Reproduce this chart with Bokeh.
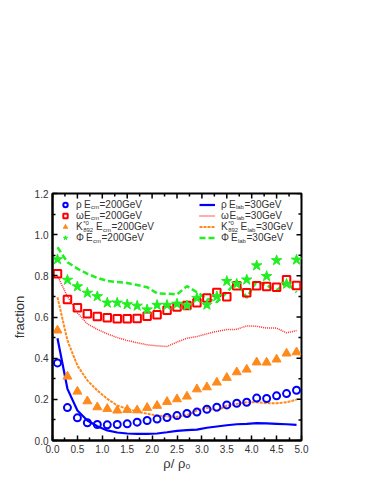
from bokeh.plotting import figure
from bokeh.models import Range1d, FixedTicker, Legend, LegendItem, NumeralTickFormatter
from bokeh.core.properties import value
from bokeh.embed import file_html
from bokeh.resources import INLINE

# ---------------- data ----------------
density = [0.1, 0.3, 0.5, 0.7, 0.9, 1.1, 1.3, 1.5, 1.7, 1.9, 2.1, 2.3, 2.5,
           2.7, 2.9, 3.1, 3.3, 3.5, 3.7, 3.9, 4.1, 4.3, 4.5, 4.7, 4.9]

rho_200 = [0.377, 0.160, 0.110, 0.086, 0.078, 0.076, 0.078, 0.081, 0.089, 0.097, 0.104, 0.112, 0.121,
           0.131, 0.138, 0.152, 0.162, 0.173, 0.181, 0.186, 0.206, 0.204, 0.217, 0.228, 0.244]
omega_200 = [0.810, 0.685, 0.645, 0.616, 0.603, 0.596, 0.591, 0.591, 0.593, 0.604, 0.611, 0.633, 0.648,
             0.656, 0.669, 0.692, 0.719, 0.698, 0.752, 0.718, 0.752, 0.748, 0.745, 0.781, 0.753]
kstar_200 = [0.535, 0.311, 0.238, 0.191, 0.162, 0.154, 0.146, 0.149, 0.147, 0.159, 0.169, 0.188, 0.201,
             0.214, 0.249, 0.259, 0.282, 0.305, 0.332, 0.345, 0.380, 0.379, 0.394, 0.423, 0.429]
phi_200 = [0.880, 0.780, 0.748, 0.717, 0.700, 0.669, 0.669, 0.661, 0.654, 0.636, 0.658, 0.658, 0.664,
           0.656, 0.692, 0.659, 0.700, 0.774, 0.761, 0.781, 0.850, 0.798, 0.875, 0.761, 0.878]

rho_30 = [0.497, 0.251, 0.146, 0.097, 0.069, 0.049, 0.039, 0.034, 0.032, 0.032, 0.034, 0.040, 0.047,
          0.050, 0.053, 0.062, 0.068, 0.074, 0.079, 0.081, 0.084, 0.083, 0.081, 0.079, 0.076]
omega_30 = [0.800, 0.700, 0.620, 0.567, 0.540, 0.518, 0.500, 0.486, 0.475, 0.465, 0.460, 0.457, 0.478,
            0.497, 0.505, 0.518, 0.530, 0.539, 0.540, 0.557, 0.555, 0.546, 0.546, 0.523, 0.534]
kstar_30 = [0.696, 0.486, 0.364, 0.292, 0.243, 0.202, 0.170, 0.154, 0.141, 0.130, 0.121, 0.117, 0.115,
            0.123, 0.146, 0.159, 0.143, 0.170, 0.178, 0.186, 0.186, 0.181, 0.181, 0.186, 0.198]
phi_30 = [0.939, 0.866, 0.835, 0.810, 0.790, 0.775, 0.770, 0.765, 0.755, 0.745, 0.715, 0.713, 0.710,
          0.750, 0.720, 0.690, 0.672, 0.720, 0.774, 0.693, 0.774, 0.753, 0.729, 0.769, 0.720]

x_ticks = [0.0, 0.5, 1.0, 1.5, 2.0, 2.5, 3.0, 3.5, 4.0, 4.5, 5.0]
x_minor_ticks = [0.25, 0.75, 1.25, 1.75, 2.25, 2.75, 3.25, 3.75, 4.25, 4.75]
y_ticks = [0.0, 0.2, 0.4, 0.6, 0.8, 1.0, 1.2]
y_minor_ticks = [0.1, 0.3, 0.5, 0.7, 0.9, 1.1]

x_label = "ρ/ ρ₀"
y_label = "fraction"

legend_greek = ["ρ", "ω", "K", "Φ"]
legend_200_sub = "cm"
legend_200_rest = "=200GeV"
legend_30_sub = "lab"
legend_30_rest = "=30GeV"
kstar_sup = "*0"
kstar_sub = "892"

# ---------------- styles ----------------
FONT = "Liberation Sans"
TXT = "#333333"
BLUE = "#0000ff"
RED = "#ff0000"
PINK = "#ff2a2a"
ORANGE = "#ff8a1c"
GREEN = "#22ee22"
FW, FH = 249, 247
XMAX, YMAX = 5.0, 1.2

p = figure(frame_width=FW, frame_height=FH, output_backend="svg", toolbar_location=None,
           x_range=Range1d(0, XMAX), y_range=Range1d(0, YMAX),
           min_border_left=52, min_border_top=193, min_border_right=60, min_border_bottom=36)
p.grid.visible = False
p.outline_line_color = "black"
p.outline_line_width = 2
p.background_fill_color = "white"
p.border_fill_color = "white"

def style_axis(ax):
    ax.axis_line_width = 2
    ax.axis_line_color = "black"
    ax.major_tick_in = 5
    ax.major_tick_out = 0
    ax.minor_tick_in = 3
    ax.minor_tick_out = 0
    ax.major_tick_line_width = 1.5
    ax.minor_tick_line_width = 1.5
    ax.major_label_text_font = FONT
    ax.major_label_text_color = TXT
    ax.major_label_text_font_size = "10px"
    ax.major_label_standoff = 4
    ax.axis_label_text_font = FONT
    ax.axis_label_text_color = TXT
    ax.axis_label_text_font_size = "13px"
    ax.axis_label_text_font_style = "normal"
    ax.formatter = NumeralTickFormatter(format="0.0")

p.xaxis.ticker = FixedTicker(ticks=x_ticks, minor_ticks=x_minor_ticks)
p.yaxis.ticker = FixedTicker(ticks=y_ticks, minor_ticks=y_minor_ticks)
style_axis(p.xaxis[0])
style_axis(p.yaxis[0])
p.xaxis.axis_label = x_label
p.yaxis.axis_label = y_label
p.xaxis.axis_label_standoff = 0
p.yaxis.axis_label_standoff = 5

# mirrored inward ticks on top and right edges (derived from the tick lists)
def seg_ticks(ticks, length_px, horizontal_edge):
    if horizontal_edge:
        d = length_px / FH * YMAX
        p.segment(x0=ticks, y0=[YMAX] * len(ticks), x1=ticks, y1=[YMAX - d] * len(ticks),
                  line_color="black", line_width=1.5)
    else:
        d = length_px / FW * XMAX
        p.segment(x0=[XMAX] * len(ticks), y0=ticks, x1=[XMAX - d] * len(ticks), y1=ticks,
                  line_color="black", line_width=1.5)

seg_ticks(x_ticks, 5, True)
seg_ticks(x_minor_ticks, 3, True)
seg_ticks(y_ticks, 5, False)
seg_ticks(y_minor_ticks, 3, False)

# ---------------- 30 GeV lines ----------------
l_rho = p.line(density, rho_30, line_color=BLUE, line_width=2.2)
l_omega = p.line(density, omega_30, line_color=PINK, line_width=1.5, line_dash="1 1")
l_kstar = p.line(density, kstar_30, line_color=ORANGE, line_width=2, line_dash="3 1")
l_phi = p.line(density, phi_30, line_color=GREEN, line_width=2.5, line_dash="6 3")

# ---------------- 200 GeV markers ----------------
m_rho = p.scatter(density, rho_200, marker="circle", size=7, line_color=BLUE, line_width=2, fill_color=None)
m_omega = p.scatter(density, omega_200, marker="square", size=7.5, line_color=RED, line_width=2, fill_color=None)
m_kstar = p.scatter(density, kstar_200, marker="triangle", size=9, line_color=ORANGE, fill_color=ORANGE)
m_phi = p.scatter(density, phi_200, marker="star", size=11, line_color=GREEN, fill_color=GREEN)

# ---------------- legends ----------------
LEG_TOP = 5.5
ROW_H = 11.2
rows_y = [LEG_TOP + ROW_H * (i + 0.5) for i in range(4)]

def mk_legend(renderers, x, gw, standoff):
    return Legend(items=[LegendItem(label=value(g), renderers=[r]) for g, r in zip(legend_greek, renderers)],
                  location=(x, FH - LEG_TOP - 4 * ROW_H), glyph_width=gw, glyph_height=11, label_height=11,
                  label_width=0, label_standoff=standoff,
                  label_text_font=FONT, label_text_font_size="10px", label_text_color=TXT,
                  spacing=0, padding=0, margin=0,
                  background_fill_alpha=0, border_line_alpha=0)

p.add_layout(mk_legend([m_rho, m_omega, m_kstar, m_phi], 6, 14, 4))
p.add_layout(mk_legend([l_rho, l_omega, l_kstar, l_phi], 147, 16, 6))

def piece(t, xo, yo, size="10px"):
    leg = Legend(items=[LegendItem(label=value(t))], location=(xo, FH - yo - 6),
                 glyph_width=0, glyph_height=12, label_height=12, label_width=0,
                 label_standoff=0, padding=0, margin=0, spacing=0,
                 label_text_font=FONT, label_text_font_size=size, label_text_color=TXT,
                 label_text_baseline="middle",
                 background_fill_alpha=0, border_line_alpha=0)
    p.add_layout(leg)

SUB = "6px"

def row(xe, xrest, y, sub, rest, xk=None):
    if xk is not None:
        piece(kstar_sup, xk, y - 3.5, SUB)
        piece(kstar_sub, xk, y + 3, SUB)
    piece("E", xe, y)
    piece(sub, xe + 6.9, y + 3, SUB)
    piece(rest, xrest, y)

# left legend (200 GeV)
row(32, 47.5, rows_y[0], legend_200_sub, legend_200_rest)
row(32, 47.5, rows_y[1], legend_200_sub, legend_200_rest)
row(44, 59.5, rows_y[2], legend_200_sub, legend_200_rest, xk=31.2)
row(34, 49.5, rows_y[3], legend_200_sub, legend_200_rest)
# right legend (30 GeV)
row(177, 192.5, rows_y[0], legend_30_sub, legend_30_rest)
row(177.5, 193, rows_y[1], legend_30_sub, legend_30_rest)
row(188.5, 204, rows_y[2], legend_30_sub, legend_30_rest, xk=176.2)
row(179, 194.5, rows_y[3], legend_30_sub, legend_30_rest)

open("out.html", "w").write(file_html(p, INLINE))
